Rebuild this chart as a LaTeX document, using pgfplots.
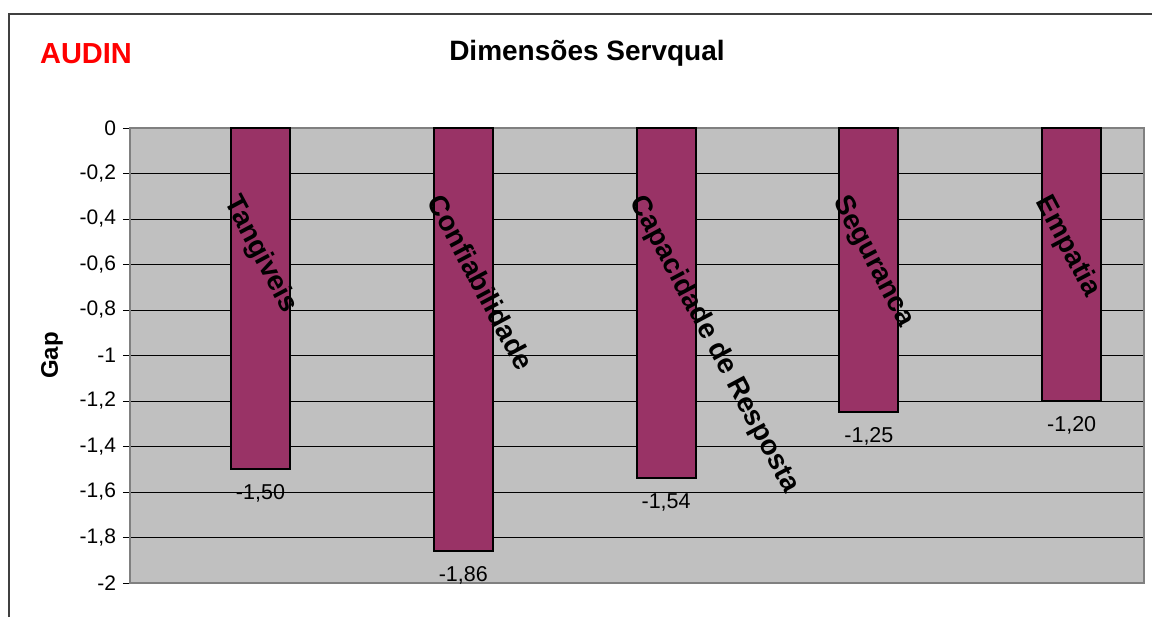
\documentclass[border=0pt]{standalone}
\usepackage{fontspec}
\setmainfont{Liberation Sans}
\usepackage{pgfplots}
\pgfplotsset{compat=1.18}

\definecolor{plotgray}{HTML}{C0C0C0}
\definecolor{bordergray}{HTML}{808080}
\definecolor{barcolor}{HTML}{993366}
\definecolor{framecol}{HTML}{404040}

\begin{document}
\begin{tikzpicture}
  % page extent and outer frame
  \path[use as bounding box] (0pt,0pt) rectangle (576pt,308.5pt);
  \draw[framecol, line width=0.8pt] (4.5pt,0pt) -- (4.5pt,301.5pt) -- (576pt,301.5pt);

  \node[font=\bfseries\fontsize{14.5}{16}\selectfont, text=red] at (43pt,281.5pt) {AUDIN};
  \node[font=\bfseries\fontsize{14}{16}\selectfont] at (293.5pt,282pt) {Dimensões Servqual};

  \begin{axis}[
    at={(65pt,17pt)}, anchor=south west,
    scale only axis, width=507pt, height=227.5pt,
    xmin=0, xmax=5, ymin=-2, ymax=0,
    axis background/.style={fill=plotgray},
    axis line style={draw=bordergray, line width=1pt},
    xtick=\empty,
    ytick={0,-0.2,-0.4,-0.6,-0.8,-1,-1.2,-1.4,-1.6,-1.8,-2},
    ytick pos=left,
    tick align=outside, major tick length=3.5pt,
    ytick style={black, line width=0.5pt},
    ymajorgrids, grid style={black, line width=0.5pt},
    /pgf/number format/assume math mode=true,
    yticklabel style={font=\fontsize{10.5}{12}\selectfont, /pgf/number format/use comma},
    ylabel={Gap},
    ylabel style={font=\bfseries\fontsize{12}{14}\selectfont,
      at={(axis description cs:-0.0769,0.5)}, anchor=center},
    clip=false,
  ]
    \addplot[ybar, fill=barcolor, draw=black, line width=1pt, bar width=29.5pt,
      point meta=y,
      nodes near coords={\pgfmathprintnumber[fixed,fixed zerofill,precision=2,use comma,assume math mode=true]{\pgfplotspointmeta}},
      every node near coord/.append style={anchor=center, yshift=-12pt,
        font=\fontsize{10.75}{12}\selectfont, line width=0pt}]
      coordinates {(0.6435,-1.50) (1.6435,-1.86) (2.6435,-1.54) (3.6435,-1.25) (4.6435,-1.20)};

    % category names written along the bars
    \begin{scope}[every node/.style={anchor=north west, rotate=-62, inner sep=0pt,
        font=\bfseries\fontsize{14}{16}\selectfont}]
      \node at (axis cs:0.5535,-0.281) {Tangiveis};
      \node at (axis cs:1.5535,-0.281) {Confiabilidade};
      \node at (axis cs:2.5535,-0.281) {Capacidade de Resposta};
      \node at (axis cs:3.5535,-0.281) {Seguranca};
      \node at (axis cs:4.5535,-0.281) {Empatia};
    \end{scope}
  \end{axis}
\end{tikzpicture}
\end{document}
